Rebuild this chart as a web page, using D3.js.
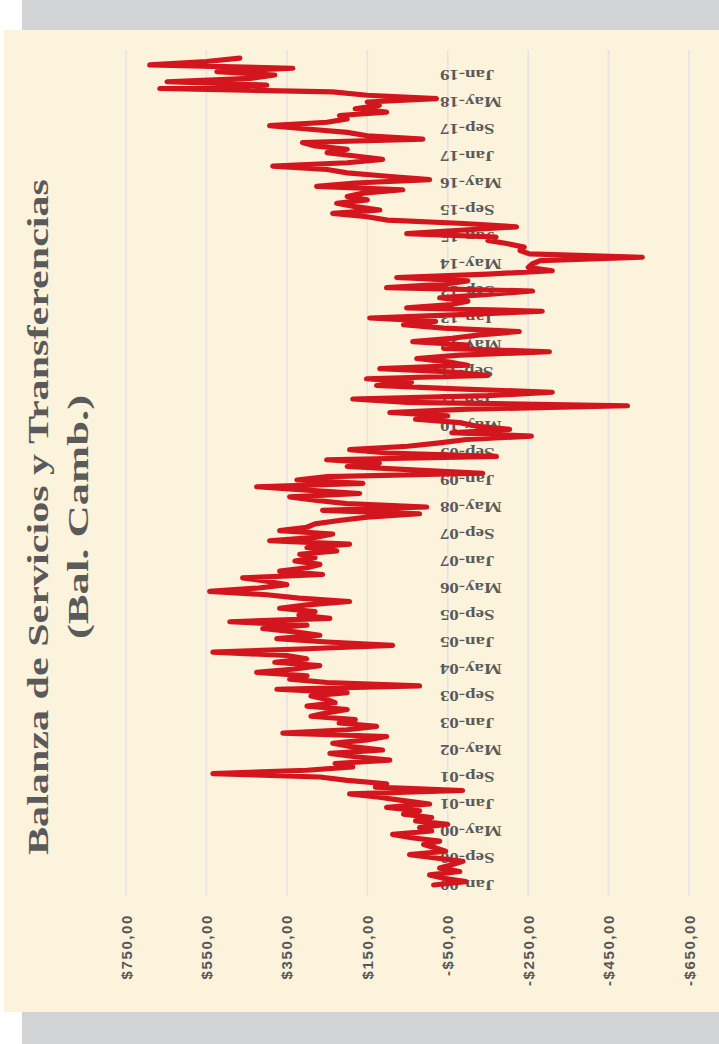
<!DOCTYPE html>
<html>
<head>
<meta charset="utf-8">
<script src="https://cdn.jsdelivr.net/npm/d3@7"></script>
<style>
  html, body { margin: 0; padding: 0; background: #ffffff; }
  svg { display: block; }
</style>
</head>
<body>
<svg id="chart" width="719" height="1044"></svg>
<script>
// Balanza de Servicios y Transferencias (Bal. Camb.) — monthly series,
// drawn as a line chart turned a quarter turn (time runs bottom to top).

const titleLines = ["Balanza de Servicios y Transferencias", "(Bal. Camb.)"];

// Category labels, one every 8 months
const tickLabels = [
  "Jan-00", "Sep-00", "May-00", "Jan-01", "Sep-01", "May-02", "Jan-03", "Sep-03",
  "May-04", "Jan-05", "Sep-05", "May-06", "Jan-07", "Sep-07", "May-08", "Jan-09",
  "Sep-09", "May-10", "Jan-11", "Sep-11", "May-12", "Jan-13", "Sep-13", "May-14",
  "Jan-15", "Sep-15", "May-16", "Jan-17", "Sep-17", "May-18", "Jan-19"
];
const labelStep = 8;

// Value axis ticks
const valueTicks = [750, 550, 350, 150, -50, -250, -450, -650];

// Monthly balance values
const balance = [
  -15, -95, -40, -5, -80, -30, -60, -88, -20, 45,
  -45, -20, 10, -30, 40, 87, -10, 20, -50, 30,
  -10, 60, 20, 102, -5, 60, 120, 194, -87, 130,
  102, 200, 268, 534, 300, 186, 230, 94, 180, 243,
  112, 190, 236, 150, 102, 360, 200, 127, 220, 180,
  290, 251, 200, 300, 230, 251, 290, 200, 375, 20,
  250, 343, 300, 425, 330, 268, 380, 301, 350, 534,
  300, 87, 250, 375, 268, 330, 410, 300, 492, 243,
  320, 280, 368, 300, 194, 320, 400, 542, 420, 350,
  400, 460, 261, 368, 300, 268, 330, 280, 318, 226,
  300, 194, 393, 280, 236, 368, 300, 280, 220, 150,
  20, 261, 2, 200, 280, 343, 169, 300, 425, 161,
  325, 250, -137, 37, 200, 120, 251, -171, 100, 194,
  50, -30, -97, -258, -60, -204, -120, -80, 30, -50,
  94, -100, -497, 50, 186, -150, -310, -72, 127, 40,
  152, -150, -60, 119, -100, -50, 27, -80, -303, -40,
  -100, 37, -60, -130, -228, -40, 60, -20, 144, -80,
  -285, 52, -60, -100, -30, -150, -261, 102, -40, -100,
  77, -150, -310, -250, -260, -280, -534, -253, -230, -240,
  -200, -150, -170, 52, -80, -221, -90, 100, 150, 236,
  119, 180, 226, 150, 200, 160, 62, 276, 180, -5,
  100, 200, 250, 385, 200, 112, 180, 250, 200, 280,
  311, 12, 150, 200, 300, 393, 250, 200, 219, 102,
  180, 120, 150, -22, 150, 236, 666, 400, 648, 442,
  380, 524, 335, 691, 550, 467
];

const svg = d3.select("#chart");

// Page frame
svg.append("rect").attr("x", 22).attr("y", 0).attr("width", 697).attr("height", 30)
  .attr("fill", "#d3d4d6");
svg.append("rect").attr("x", 22).attr("y", 1012).attr("width", 697).attr("height", 32)
  .attr("fill", "#d3d4d6");
svg.append("rect").attr("x", 4).attr("y", 30).attr("width", 715).attr("height", 982)
  .attr("fill", "#fcf3dc");

// Scales: category index runs upward, values increase to the left
const lastLabelIndex = (tickLabels.length - 1) * labelStep;
const y = d3.scaleLinear().domain([0, lastLabelIndex]).range([885, 75]);
const x = d3.scaleLinear().domain([-650, 750]).range([689, 126]);

// Gridlines
svg.append("g")
  .selectAll("line")
  .data(valueTicks)
  .join("line")
  .attr("x1", d => x(d)).attr("x2", d => x(d))
  .attr("y1", 50).attr("y2", 896)
  .attr("stroke", "#e6e2e6")
  .attr("stroke-width", 1.6);

// Value labels
const money = d => (d < 0 ? "-$" : "$") + Math.abs(d) + ",00";
svg.append("g")
  .selectAll("text")
  .data(valueTicks)
  .join("text")
  .attr("transform", d => `translate(${x(d)},914) rotate(-90)`)
  .attr("text-anchor", "end")
  .attr("dominant-baseline", "central")
  .attr("font-family", "'Liberation Sans', Arial, sans-serif")
  .attr("font-weight", "bold")
  .attr("font-size", 15)
  .attr("letter-spacing", 1.6)
  .attr("fill", "#585858")
  .text(money);

// Category labels (upside down after the quarter turn)
svg.append("g")
  .selectAll("text")
  .data(tickLabels)
  .join("text")
  .attr("transform", (d, i) => `translate(440,${y(i * labelStep)}) rotate(180) scale(1.3,1)`)
  .attr("text-anchor", "end")
  .attr("dominant-baseline", "central")
  .attr("font-family", "'Liberation Serif', 'Times New Roman', serif")
  .attr("font-weight", "bold")
  .attr("font-size", 14.5)
  .attr("fill", "#5a5a5a")
  .text(d => d);

// Series line
const line = d3.line()
  .x(d => x(d))
  .y((d, i) => y(i));

svg.append("path")
  .datum(balance)
  .attr("d", line)
  .attr("fill", "none")
  .attr("stroke", "#d3161e")
  .attr("stroke-width", 5.2)
  .attr("stroke-linejoin", "round")
  .attr("stroke-linecap", "round");

// Title
const titleSpecs = [
  { text: titleLines[0], x: 48, len: 676 },
  { text: titleLines[1], x: 88, len: 244 }
];
svg.append("g")
  .selectAll("text")
  .data(titleSpecs)
  .join("text")
  .attr("transform", d => `translate(${d.x},517) rotate(-90)`)
  .attr("text-anchor", "middle")
  .attr("font-family", "'Liberation Serif', 'Times New Roman', serif")
  .attr("font-weight", "bold")
  .attr("font-size", 30)
  .attr("fill", "#5a5a5a")
  .attr("textLength", d => d.len)
  .attr("lengthAdjust", "spacingAndGlyphs")
  .text(d => d.text);
</script>
</body>
</html>
